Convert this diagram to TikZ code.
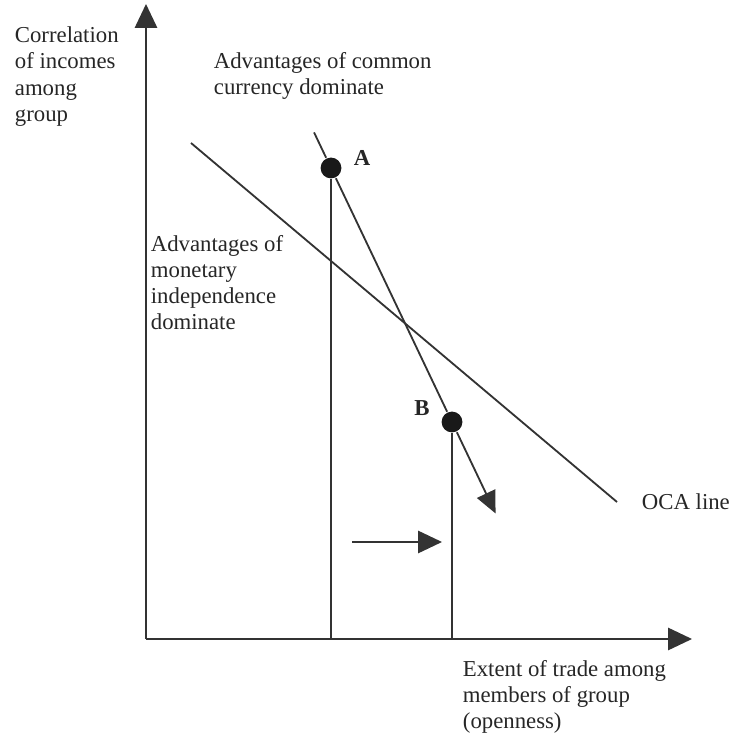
\documentclass[tikz,border=0pt]{standalone}
\usepackage{fontspec}
\setmainfont{Liberation Serif}
\usetikzlibrary{calc,positioning}
\usetikzlibrary{arrows.meta}

\tikzset{
  txt/.style={inner sep=0pt,align=left,font=\fontsize{16.2}{18.6}\selectfont,text=black!85},
  dot/.style={circle,fill=black!90,inner sep=0pt,minimum size=0.52cm},
  bigtip/.style={-{Triangle[length=0.6cm,width=0.56cm]}}
}

\begin{document}
\begin{tikzpicture}[line width=1.3pt,draw=black!80]
\useasboundingbox (0,0) rectangle (18.35,18.5);
\coordinate(O) at(3.65,2.525);
\coordinate(ytop) at(3.65,18.4);
\coordinate(xend) at(17.3,2.525);
\draw[bigtip](O)--(ytop);
\draw[bigtip](O)--(xend);
\node[dot](A)at(8.275,14.3){};
\node[dot](B)at(11.3,7.95){};
\coordinate(s) at($(A)!-0.14!(B)$);
\coordinate(t) at($(A)!1.36!(B)$);
\draw(s)--(A)--(B);
\draw[-{Triangle[length=0.55cm,width=0.5cm]}](B)--(t);
\draw(A)--(A|-O);
\draw(B)--(B|-O);
\coordinate(oca1) at(4.775,14.925);
\coordinate(oca2) at(15.425,5.95);
\draw(oca1)--(oca2)node[txt,right=0.6cm]{OCA line};
\coordinate(h1) at(8.8,4.95);
\coordinate(h2) at(11.05,4.95);
\draw[bigtip](h1)--(h2);
\node[txt,font=\fontsize{16.2}{18.6}\selectfont\bfseries](Alab)at(9.05,14.55){A};
\node[txt,font=\fontsize{16.2}{18.6}\selectfont\bfseries](Blab)at(10.55,8.3){B};
\node[txt,anchor=north west](ylab)at(0.35,17.85){Correlation\\of incomes\\among\\group};
\node[txt,anchor=north west](com)at(5.325,17.22){Advantages of common\\currency dominate};
\node[txt,anchor=north west](mon)at(3.75,12.64){Advantages of\\monetary\\independence\\dominate};
\node[txt,anchor=north west](xlab)at(11.55,2.02){Extent of trade among\\members of group\\(openness)};
\end{tikzpicture}
\end{document}
